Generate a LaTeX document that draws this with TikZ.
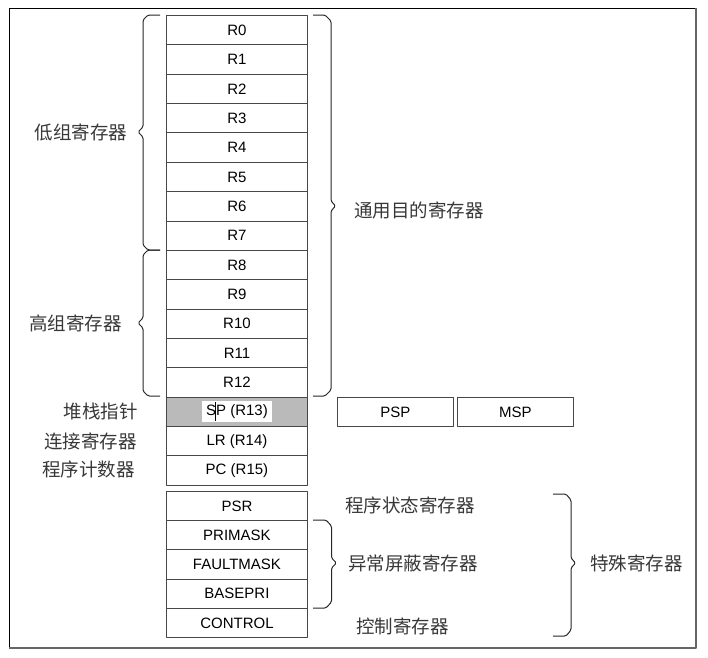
\documentclass[tikz,border=0pt]{standalone}
\usepackage{fontspec}
\setmainfont{Liberation Sans}
\newfontfamily\cjk{Noto Sans CJK SC}
\begin{document}
\begin{tikzpicture}[x=1pt,y=-1pt,
  line join=round,
  reg/.style={draw=black!72, line width=0.9pt, minimum width=141pt,
    minimum height=29.36pt, inner sep=0pt, anchor=north west,
    font=\fontsize{15}{16}\selectfont, text=black},
  spec/.style={reg, minimum height=29.2pt},
  side/.style={reg, minimum width=116pt},
  lbl/.style={font=\cjk\fontsize{18.5}{20}\selectfont, text=black!78, inner sep=0pt},
  brc/.style={draw=black!85, line width=1pt, rounded corners=1.5pt}]
\useasboundingbox (0,0) rectangle (708,657);

% outer frame: dark top/left edges, grey shadowed right/bottom edges
\draw[black, line width=1pt] (9,648) -- (9,8) -- (696,8);
\draw[black!60, line width=2pt] (696,8) -- (696,648) -- (9,648);

% core registers R0 .. R12
\foreach \i in {0,...,12}
  \node[reg] (r\i) at (166, 15+29.36*\i) {R\i};
% stack pointer, link register, program counter
\node[reg, fill=black!27] (sp) at (166, 15+29.36*13) {};
\node[fill=white, inner xsep=4.5pt, inner ysep=3.5pt,
      font=\fontsize{15}{16}\selectfont, text=black] (sptext) at (sp.center) {SP (R13)};
\draw[black, line width=0.8pt] ([xshift=-21.5pt,yshift=-9pt]sptext.center) -- ([xshift=-21.5pt,yshift=10pt]sptext.center);
\node[reg] (lr) at (166, 15+29.36*14) {LR (R14)};
\node[reg] (pc) at (166, 15+29.36*15) {PC (R15)};

% banked stack pointers
\node[side] (psp) at (337, 397) {PSP};
\node[side] (msp) at (457, 397) {MSP};

% special registers
\node[spec] (psr)  at (166, 491)        {PSR};
\node[spec] (pri)  at (166, 491+29.2)   {PRIMASK};
\node[spec] (flt)  at (166, 491+2*29.2) {FAULTMASK};
\node[spec] (bas)  at (166, 491+3*29.2) {BASEPRI};
\node[spec] (ctl)  at (166, 491+4*29.2) {CONTROL};

% labels
\node[lbl] (lo)   at (81, 132)  {低组寄存器};
\node[lbl] (hi)   at (75.5, 323) {高组寄存器};
\node[lbl, anchor=east] (spl) at (138, 411.5) {堆栈指针};
\node[lbl, anchor=east] (lrl) at (137, 441) {连接寄存器};
\node[lbl, anchor=east] (pcl) at (135, 469.5) {程序计数器};
\node[lbl, anchor=west] (gen) at (354, 210) {通用目的寄存器};
\node[lbl, anchor=west] (psrl) at (345, 505) {程序状态寄存器};
\node[lbl, anchor=west] (exc) at (348, 563) {异常屏蔽寄存器};
\node[lbl, anchor=west] (ctll) at (356, 626) {控制寄存器};
\node[lbl, anchor=west] (spc) at (590, 563) {特殊寄存器};

% left braces: low and high register groups
\draw[brc] (160,15) -- (148,15) -- (143,20) -- (143,127) -- (138,132)
  -- (143,137) -- (143,245) -- (148,250) -- (160,250);
\draw[brc] (160,250) -- (148,250) -- (143,255) -- (143,318) -- (138,323)
  -- (143,328) -- (143,391) -- (148,396) -- (160,396);

% right braces
\draw[brc] (313,15) -- (325,15) -- (331,21) -- (331,201) -- (335.5,206)
  -- (331,211) -- (331,390) -- (325,396) -- (313,396);
\draw[brc] (313,520) -- (326,520) -- (331.5,526) -- (331.5,558) -- (336.5,563)
  -- (331.5,568) -- (331.5,602) -- (326,608) -- (313,608);
\draw[brc] (553,494) -- (566,494) -- (571,500) -- (571,558) -- (575.5,563)
  -- (571,568) -- (571,630) -- (566,636) -- (553,636);
\end{tikzpicture}
\end{document}
